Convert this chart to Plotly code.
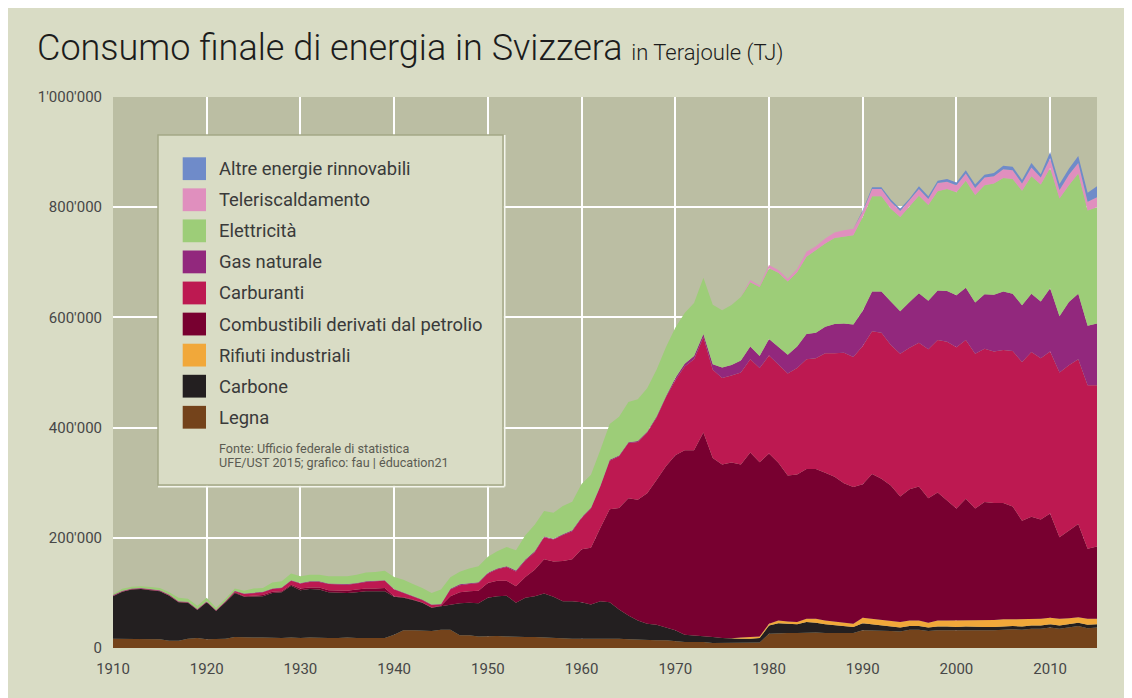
import plotly.graph_objects as go

# ---------------- data (thousand TJ) ----------------
years = list(range(1910, 2016))

legna = [
    17, 17, 17, 17, 17, 16, 13, 13, 17, 18,
    16, 16, 17, 20, 19, 19, 19, 18, 18, 19,
    18, 19, 18, 18, 18, 19, 18, 18, 18, 18,
    24, 32, 32, 32, 31, 33, 33, 23, 23, 21,
    22, 22, 21, 20, 20, 20, 19, 19, 18, 17,
    17, 17, 18, 17, 17, 16, 15, 15, 14, 14,
    12, 11, 11, 11, 9, 9, 9, 9, 9, 10,
    26, 27, 27, 27, 28, 28, 27, 27, 26, 27,
    32, 32, 31, 31, 30, 33, 33, 31, 32, 32,
    31, 32, 31, 32, 32, 33, 34, 33, 35, 35,
    37, 35, 37, 40, 36, 37,
]

carbone = [
    77, 85, 89, 90, 88, 87, 82, 70, 65, 51,
    67, 51, 66, 80, 74, 75, 75, 82, 83, 94,
    87, 88, 88, 83, 82, 81, 83, 85, 85, 85,
    69, 59, 55, 50, 42, 43, 45, 58, 59, 60,
    69, 72, 74, 62, 71, 74, 80, 74, 67, 68,
    66, 62, 67, 66, 53, 43, 35, 29, 28, 23,
    20, 13, 12, 10, 11, 9, 8, 8, 8, 8,
    15, 18, 17, 16, 19, 18, 16, 14, 13, 11,
    13, 11, 9, 8, 7, 7, 7, 6, 7, 7,
    7, 7, 7, 6, 6, 6, 6, 6, 6, 6,
    6, 6, 6, 6, 6, 6,
]

rifiuti = [
    0, 0, 0, 0, 0, 0, 0, 0, 0, 0,
    0, 0, 0, 0, 0, 0, 0, 0, 0, 0,
    0, 0, 0, 0, 0, 0, 0, 0, 0, 0,
    0, 0, 0, 0, 0, 0, 0, 0, 0, 0,
    0, 0, 0, 0, 0, 0, 0, 0, 0, 0,
    0, 0, 0, 0, 0, 0, 0, 0, 0, 0,
    0, 0, 0, 0, 0, 0, 0.5, 2, 3, 3,
    3, 5, 4, 4, 6, 7, 7, 7, 7, 6,
    10, 10, 10, 10, 10, 10, 10, 9, 11, 11,
    12, 12, 13, 13, 13, 13, 12, 14, 12, 12,
    12, 12, 11, 10, 11, 10,
]

combustibili = [
    0.5, 0.5, 0.5, 0.5, 0.5, 0.5, 0.5, 0.5, 0.5, 0.5,
    0.5, 0.5, 0.5, 1, 1, 1, 2, 2, 2, 2,
    3, 3, 4, 4, 4, 4, 5, 5, 5, 6,
    1, 1, 1, 0.5, 0.5, 0.5, 16, 20, 21, 23,
    27, 28, 27, 30, 38, 48, 62, 64, 73, 76,
    96, 103, 133, 169, 184, 213, 219, 237, 263, 293,
    318, 335, 336, 370, 325, 315, 319, 314, 335, 316,
    309, 286, 265, 268, 272, 272, 268, 263, 253, 248,
    242, 263, 257, 246, 228, 238, 243, 226, 232, 217,
    203, 220, 202, 214, 212, 211, 205, 178, 185, 180,
    189, 148, 159, 169, 127, 131,
]

carburanti = [
    0.5, 0.5, 0.5, 0.5, 0.5, 0.5, 0.5, 0.5, 0.5, 0.5,
    0.5, 0.5, 1, 2, 4, 5, 5, 5, 6, 7,
    9, 10, 10, 11, 11, 11, 11, 12, 13, 13,
    12, 8, 5, 4.5, 4.5, 2.5, 12, 13, 13, 14,
    17, 21, 25, 27, 30, 32, 40, 40, 47, 51,
    57, 71, 75, 88, 94, 100, 105, 110, 113, 125,
    136, 152, 165, 173, 160, 157, 158, 167, 169, 171,
    178, 179, 185, 193, 199, 201, 217, 224, 237, 236,
    251, 259, 265, 255, 259, 257, 261, 270, 277, 289,
    293, 288, 281, 278, 275, 278, 282, 288, 299, 293,
    294, 299, 300, 299, 297, 293,
]

gas_naturale = [
    1, 1, 1, 1, 1, 1, 1, 1, 1, 1,
    1, 1, 1, 1, 1, 1, 1, 1, 1, 1,
    1, 1, 1, 1, 1, 1, 1, 1, 1, 1,
    1, 1, 1, 1, 1, 1, 1.5, 1.5, 1.5, 1.5,
    1.5, 1.5, 1.5, 1.5, 1.5, 1.5, 1.5, 1.5, 1.5, 1.5,
    1.5, 1.5, 1.5, 1.5, 1.5, 1.5, 1.5, 1.5, 2, 2,
    4, 5, 6, 6, 10, 19, 19, 22, 23, 22,
    30, 32, 34, 39, 46, 46, 48, 53, 53, 59,
    64, 72, 75, 79, 77, 83, 90, 88, 90, 92,
    94, 95, 93, 99, 103, 106, 104, 103, 106, 103,
    115, 102, 115, 119, 108, 112,
]

elettricita = [
    2, 3.5, 3, 3, 3.5, 4, 4, 6, 5.5, 5.5,
    6, 4, 4, 4, 5, 7, 7, 11, 11, 12,
    12, 12, 12, 13, 14, 14, 15, 16, 16, 17,
    22, 23, 22, 21, 21, 26, 21, 23, 27, 29,
    29, 31, 35, 37, 44, 48, 46, 47, 51, 52,
    60, 60, 65, 65, 70, 73, 76, 79, 85, 89,
    91, 92, 96, 102, 108, 104, 109, 115, 117, 125,
    128, 134, 133, 135, 140, 150, 151, 156, 158, 162,
    170, 173, 173, 168, 171, 173, 177, 174, 180, 185,
    187, 194, 195, 198, 202, 206, 208, 208, 213, 212,
    218, 214, 212, 218, 209, 211,
]

teleriscaldamento = [
    0, 0, 0, 0, 0, 0, 0, 0, 0, 0,
    0, 0, 0, 0, 0, 0, 0, 0, 0, 0,
    0, 0, 0, 0, 0, 0, 0, 0, 0, 0,
    0, 0, 0, 0, 0, 0, 0, 0, 0, 0,
    0, 0, 0, 0, 0, 0, 0, 0, 0, 0,
    0, 0, 0, 0, 0, 0, 0, 0, 0, 0,
    0, 0, 0, 0, 0, 0, 0, 0, 4, 3,
    6, 5, 5, 6, 9, 7, 9, 10, 11, 12,
    10, 13, 13, 13, 11, 11, 12, 11, 15, 13,
    13, 13, 13, 14, 13, 16, 16, 13, 16, 13,
    18, 15, 19, 19, 16, 18,
]

altre_rinnovabili = [
    0, 0, 0, 0, 0, 0, 0, 0, 0, 0,
    0, 0, 0, 0, 0, 0, 0, 0, 0, 0,
    0, 0, 0, 0, 0, 0, 0, 0, 0, 0,
    0, 0, 0, 0, 0, 0, 0, 0, 0, 0,
    0, 0, 0, 0, 0, 0, 0, 0, 0, 0,
    0, 0, 0, 0, 0, 0, 0, 0, 0, 0,
    0, 0, 0, 0, 0, 0, 0, 0, 0, 0,
    0, 0, 0, 0, 0, 0, 0, 0, 0, 0,
    2.5, 3, 3, 4, 4, 4, 5, 5, 4, 5,
    5, 6, 6, 5, 6, 6, 6.5, 6.5, 8, 6,
    11, 11, 11, 13, 16, 20,
]

x_tick_vals = [1910, 1920, 1930, 1940, 1950, 1960, 1970, 1980, 1990, 2000, 2010]
x_tick_text = ["1910", "1920", "1930", "1940", "1950", "1960", "1970", "1980", "1990", "2000", "2010"]
y_tick_vals = [0, 200, 400, 600, 800, 1000]
y_tick_text = ["0", "200'000", "400'000", "600'000", "800'000", "1'000'000"]

title_main = "Consumo finale di energia in Svizzera"
title_unit = "in Terajoule (TJ)"
source_lines = ["Fonte: Ufficio federale di statistica", "UFE/UST 2015; grafico: fau | éducation21"]

# stacking order bottom -> top
series = [
    ("Legna", legna, "#74431b"),
    ("Carbone", carbone, "#231f20"),
    ("Rifiuti industriali", rifiuti, "#f1a83a"),
    ("Combustibili derivati dal petrolio", combustibili, "#780030"),
    ("Carburanti", carburanti, "#bd1951"),
    ("Gas naturale", gas_naturale, "#92287d"),
    ("Elettricità", elettricita, "#9dcd78"),
    ("Teleriscaldamento", teleriscaldamento, "#e08fbe"),
    ("Altre energie rinnovabili", altre_rinnovabili, "#6f8bc9"),
]

# ---------------- layout geometry ----------------
# the page shows the figure with an 8px white body margin (acts as the white frame)
OFF = 8
W, H = 1132 - OFF, 698 - OFF
L, R, T, B = 105, 35, 89, 50
PW, PH = W - L - R, H - T - B
X0S, Y0S = L + OFF, H - B + OFF   # screen position of plot-area left / bottom


def px(xs):
    """screen x pixel -> paper x"""
    return (xs - X0S) / PW


def py(ys):
    """screen y pixel -> paper y"""
    return (Y0S - ys) / PH


fig = go.Figure()
for name, vals, col in series:
    fig.add_trace(go.Scatter(
        x=years, y=vals, name=name, mode="lines", stackgroup="one",
        line=dict(width=0, color=col), fillcolor=col,
        showlegend=False, hoverinfo="skip",
    ))

font_fam = "Roboto, Noto Sans, sans-serif"

fig.update_layout(
    width=W, height=H,
    margin=dict(l=L, r=R, t=T, b=B, autoexpand=False),
    paper_bgcolor="#d9dcc5",
    plot_bgcolor="#bbbea3",
    font=dict(family=font_fam, color="#444444"),
    showlegend=False,
)
fig.update_xaxes(
    range=[1910, 2015], tickvals=x_tick_vals, ticktext=x_tick_text,
    showgrid=True, gridcolor="#ffffff", gridwidth=1.5, zeroline=False, showline=False,
    ticks="outside", ticklen=7, tickcolor="rgba(0,0,0,0)",
    tickfont=dict(size=15, color="#474747", family=font_fam),
)
fig.update_yaxes(
    range=[0, 1000], tickvals=y_tick_vals, ticktext=y_tick_text,
    showgrid=True, gridcolor="#ffffff", gridwidth=1.5, zeroline=False, showline=False,
    ticks="outside", ticklen=7, tickcolor="rgba(0,0,0,0)",
    tickfont=dict(size=15, color="#474747", family=font_fam),
)

shapes = []
annotations = []

# title
annotations.append(dict(
    xref="paper", yref="paper", x=px(35), y=py(48), xanchor="left", yanchor="middle",
    showarrow=False,
    text=title_main + " <span style='font-size:22px'>" + title_unit + "</span>",
    font=dict(size=36, color="#1c1c1c", family=font_fam, weight=300),
))

# legend box
bx0, by0, bx1, by1 = 158, 135, 503, 485
shapes.append(dict(type="line", xref="paper", yref="paper", x0=px(bx1 + 1.5), x1=px(bx1 + 1.5),
                   y0=py(by0), y1=py(by1 + 1.5), line=dict(color="#f4f5ec", width=2), layer="above"))
shapes.append(dict(type="line", xref="paper", yref="paper", x0=px(bx0), x1=px(bx1 + 1.5),
                   y0=py(by1 + 1.5), y1=py(by1 + 1.5), line=dict(color="#f4f5ec", width=2), layer="above"))
shapes.append(dict(type="rect", xref="paper", yref="paper", x0=px(bx0), x1=px(bx1), y0=py(by1), y1=py(by0),
                   fillcolor="#d9dcc5", line=dict(color="#a4a887", width=1.5), layer="above"))

legend_order = list(reversed(series))
first_c, step = 168.7, 31.07
for i, (name, vals, col) in enumerate(legend_order):
    c = first_c + i * step
    shapes.append(dict(type="rect", xref="paper", yref="paper",
                       x0=px(182.7), x1=px(206), y0=py(c + 11.4), y1=py(c - 11.4),
                       fillcolor=col, line=dict(width=0), layer="above"))
    annotations.append(dict(
        xref="paper", yref="paper", x=px(217), y=py(c), xanchor="left", yanchor="middle",
        showarrow=False, text=name, font=dict(size=18.4, color="#3a3a3a", family=font_fam),
    ))

for j, line in enumerate(source_lines):
    annotations.append(dict(
        xref="paper", yref="paper", x=px(217), y=py(448.3 + j * 14.5), xanchor="left", yanchor="middle",
        showarrow=False, text=line, font=dict(size=12.6, color="#5b5b52", family=font_fam),
    ))

fig.update_layout(shapes=shapes, annotations=annotations)

fig.write_html("out.html", config={"displayModeBar": False})
